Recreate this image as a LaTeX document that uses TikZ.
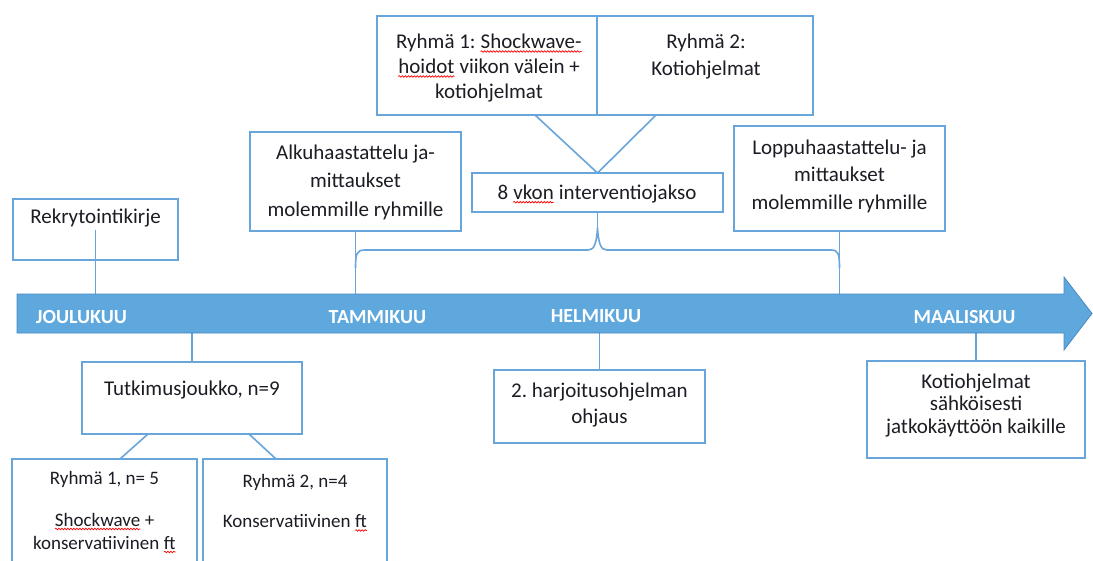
\documentclass[tikz,border=0pt]{standalone}
\usepackage{fontspec}
\setmainfont{Carlito}
\usetikzlibrary{decorations.pathmorphing}
\definecolor{boxc}{RGB}{104,165,218}
\definecolor{arrfill}{RGB}{94,168,221}
\definecolor{arrdraw}{RGB}{72,138,196}
\definecolor{txtc}{RGB}{28,28,36}
\frenchspacing
\newcommand\sperr[1]{\tikz[baseline=(sw.base)]{\node[inner sep=0pt,outer sep=0pt,anchor=base,draw=none,fill=none](sw){#1};\draw[red,line width=0.7pt,decorate,decoration={snake,amplitude=0.8pt,segment length=3pt}]([yshift=-3pt]sw.base west)--([yshift=-3pt]sw.base east);}}
\begin{document}
\begin{tikzpicture}[x=1pt,y=-1pt,
 box/.style={draw=boxc,line width=1.6pt,fill=white,inner sep=0pt,outer sep=0pt},
 conn/.style={draw=boxc,line width=1.6pt},
 txt/.style={inner sep=0pt,align=center,text=txtc,font=\fontsize{21}{25}\selectfont\frenchspacing},
 mon/.style={inner sep=0pt,text=white,font=\fontsize{20}{24}\selectfont\bfseries}]
\useasboundingbox (0,0) rectangle (1093,560);
\clip (0,0) rectangle (1093,560);
\fill[white] (0,0) rectangle (1093,560);
\coordinate (shT) at (0,294);
\coordinate (shB) at (0,333);
% boxes
\node[box,minimum width=165pt,minimum height=61pt] (rek) at (95.5,229.5) {};
\node[box,minimum width=211pt,minimum height=99pt] (alku) at (355.5,181.5) {};
\node[box,minimum width=221pt,minimum height=99pt] (r1) at (487.5,65.5) {};
\node[box,minimum width=216pt,minimum height=99pt] (r2) at (705,65.5) {};
\node[box,minimum width=251pt,minimum height=39pt] (vk) at (597.5,192.5) {};
\node[box,minimum width=211pt,minimum height=105pt] (lop) at (839.5,178.5) {};
\node[box,minimum width=220pt,minimum height=72pt] (tut) at (192,398) {};
\node[box,minimum width=185pt,minimum height=130pt] (g1) at (104.5,524) {};
\node[box,minimum width=184pt,minimum height=130pt] (g2) at (295,524) {};
\node[box,minimum width=211pt,minimum height=73pt] (harj) at (599.5,406.5) {};
\node[box,minimum width=218pt,minimum height=97pt] (koti) at (976,409.5) {};
% texts
\node[txt] (rekT) at (95.5,218) {Rekrytointikirje};
\node[txt,font=\fontsize{21}{28.5}\selectfont\frenchspacing] (alkuT) at (355.5,182) {Alkuhaastattelu ja-\\mittaukset\\molemmille ryhmille};
\node[txt,font=\fontsize{21}{25}\selectfont\frenchspacing] (r1T) at (489,68) {Ryhmä 1: \sperr{Shockwave-}\\\sperr{hoidot} viikon välein +\\kotiohjelmat};
\node[txt,font=\fontsize{21}{27}\selectfont\frenchspacing] (r2T) at (706,57) {Ryhmä 2:\\Kotiohjelmat};
\node[txt] (vkT) at (597,194) {8 \sperr{vkon} interventiojakso};
\node[txt,font=\fontsize{21}{27.5}\selectfont\frenchspacing] (lopT) at (839.5,176) {Loppuhaastattelu- ja\\mittaukset\\molemmille ryhmille};
\node[txt] (tutT) at (192,390) {Tutkimusjoukko, n=9};
\node[txt,font=\fontsize{19}{23}\selectfont\frenchspacing] (g1T) at (104.5,512) {Ryhmä 1, n= 5\\[19pt]\sperr{Shockwave} +\\konservatiivinen \sperr{ft}};
\node[txt,font=\fontsize{19}{23}\selectfont\frenchspacing] (g2T) at (295,503) {Ryhmä 2, n=4\\[17pt]Konservatiivinen \sperr{ft}};
\node[txt,font=\fontsize{21}{26}\selectfont\frenchspacing] (harjT) at (599.5,405) {2. harjoitusohjelman\\ohjaus};
\node[txt,font=\fontsize{21}{22.5}\selectfont\frenchspacing] (kotiT) at (976,405.5) {Kotiohjelmat\\sähköisesti\\jatkokäyttöön kaikille};
% connectors
\draw[conn] (rek.center) -- (rek.center |- shT);
\draw[conn] (alku.south) -- (alku.south |- shT);
\draw[conn] (lop.south) -- (lop.south |- shT);
\coordinate (peak) at (597.5,228);
\draw[conn] (vk.south) -- (peak);
\draw[conn,line join=round] (355.5,268) .. controls (355.5,253) and (357,250) .. (365,250) -- (588,250) .. controls (594,250) and (596.5,244) .. (peak) .. controls (598.5,244) and (601,250) .. (607,250) -- (831,250) .. controls (838,250) and (839.5,253) .. (839.5,268);
\draw[conn] ([xshift=-63pt]r1.south east) -- (vk.north);
\draw[conn] ([xshift=59pt]r2.south west) -- (vk.north);
\draw[conn] (tut.north |- shB) -- (tut.north);
\draw[conn] ([xshift=-44pt]tut.south) -- ([xshift=15.5pt]g1.north);
\draw[conn] ([xshift=57pt]tut.south) -- ([xshift=-19pt]g2.north);
\draw[conn] (harj.north |- shB) -- (harj.north);
\draw[conn] (koti.north |- shB) -- (koti.north);
% timeline arrow
\filldraw[fill=arrfill,draw=arrdraw,line width=0.8pt,line join=miter] (17,294) -- (1064,294) -- (1064,277) -- (1092,313.5) -- (1064,350) -- (1064,333) -- (17,333) -- cycle;
\node[mon] (m1) at (81.5,317) {JOULUKUU};
\node[mon] (m2) at (377.5,317) {TAMMIKUU};
\node[mon] (m3) at (596,316) {HELMIKUU};
\node[mon] (m4) at (964.5,317) {MAALISKUU};
\end{tikzpicture}
\end{document}
